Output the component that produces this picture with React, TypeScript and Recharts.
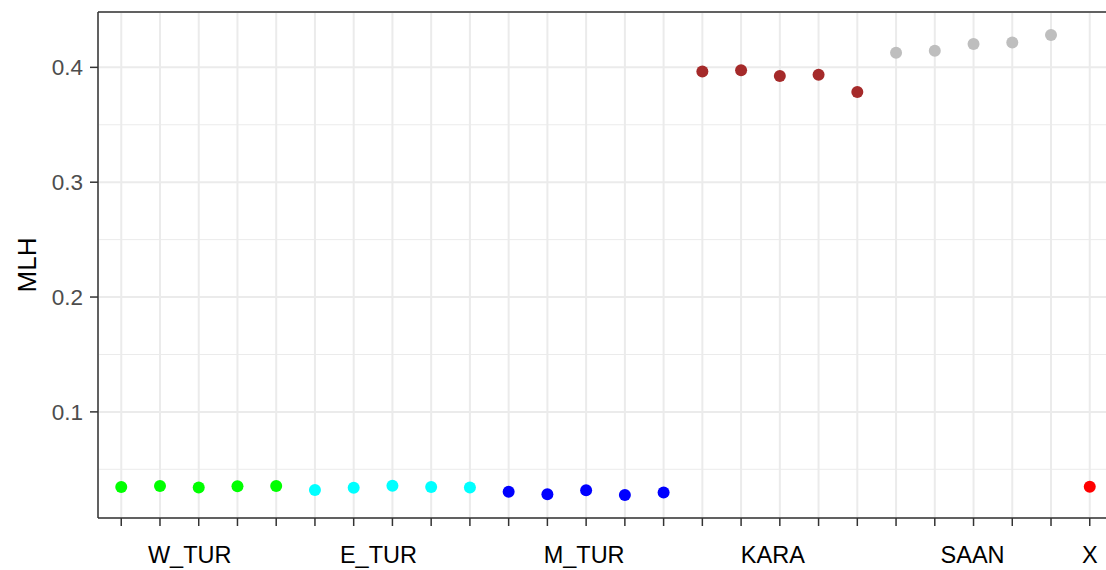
import {
  CartesianGrid,
  Label,
  ReferenceLine,
  Scatter,
  ScatterChart,
  XAxis,
  YAxis,
} from "recharts";

const groups = ["W_TUR", "E_TUR", "M_TUR", "KARA", "SAAN", "X"];
const groupColors = ["#00FF00", "#00FFFF", "#0000FF", "#A52A2A", "#BEBEBE", "#FF0000"];

const mlhWTur = [0.0345, 0.0354, 0.0341, 0.0352, 0.0354];
const mlhETur = [0.0319, 0.0339, 0.0357, 0.0345, 0.0342];
const mlhMTur = [0.0304, 0.0282, 0.0317, 0.0276, 0.0299];
const mlhKara = [0.3963, 0.3974, 0.3925, 0.3936, 0.3786];
const mlhSaan = [0.4128, 0.4145, 0.4203, 0.4217, 0.4282];
const mlhX = [0.0348];

const groupValues = [mlhWTur, mlhETur, mlhMTur, mlhKara, mlhSaan, mlhX];

const yTicks = [0.1, 0.2, 0.3, 0.4];
const yMinor = [0.05, 0.15, 0.25, 0.35];

// nudge of each group label (ggplot put them slightly left of the centre)
const labelShift: Record<string, number> = {
  W_TUR: -9,
  E_TUR: -14,
  M_TUR: -2,
  KARA: -7,
  SAAN: -1,
  X: 0,
};

// one row per sample, numbered along the x axis
let pos = 0;
const seriesData = groupValues.map((vals) =>
  vals.map((v) => {
    pos += 1;
    return { pos, mlh: v };
  })
);
const positions = Array.from({ length: pos }, (_, i) => i + 1);

// group label sits under the middle sample of its group
const tickLabels: string[] = positions.map(() => "");
seriesData.forEach((rows, i) => {
  const mid = rows[Math.floor((rows.length - 1) / 2)];
  tickLabels[mid.pos - 1] = groups[i];
});

const yMin = 0.0076;
const yMax = 0.4482;
const font = "'Liberation Sans', Arial, sans-serif";

const Dot = (props: any) => (
  <circle cx={props.cx} cy={props.cy} r={6} fill={props.fill} />
);

const XTick = (props: any) => {
  const label = tickLabels[props.payload.value - 1];
  if (!label) return <g />;
  return (
    <text
      x={props.x + labelShift[label]}
      y={props.y}
      dy="0.71em"
      textAnchor="middle"
      fontSize={23.5}
      fontFamily={font}
      fill="#000000"
    >
      {label}
    </text>
  );
};

export default function App() {
  return (
    <div
      style={{
        position: "absolute",
        left: 0,
        top: 0,
        width: 1106,
        height: 570,
        overflow: "hidden",
        background: "#fff",
      }}
    >
      <ScatterChart
        width={1120}
        height={570}
        margin={{ top: 12, right: 7, left: 0, bottom: 0 }}
      >
        <CartesianGrid stroke="#EBEBEB" strokeWidth={2} fill="#FFFFFF" />
        {yMinor.map((v) => (
          <ReferenceLine key={v} y={v} stroke="#EBEBEB" strokeWidth={1} />
        ))}
        <ReferenceLine y={yMax} stroke="#333333" strokeWidth={1.5} />
        <XAxis
          type="number"
          dataKey="pos"
          domain={[0.4, pos + 0.6]}
          allowDataOverflow={true}
          ticks={positions}
          interval={0}
          height={52}
          tickSize={8}
          tickMargin={20}
          tick={<XTick />}
          axisLine={{ stroke: "#333333", strokeWidth: 1.5 }}
          tickLine={{ stroke: "#333333", strokeWidth: 1.5 }}
        />
        <YAxis
          type="number"
          dataKey="mlh"
          domain={[yMin, yMax]}
          allowDataOverflow={true}
          ticks={yTicks}
          width={98}
          tickSize={8}
          tickMargin={7}
          tick={{ fill: "#4D4D4D", fontSize: 22.5, fontFamily: font }}
          axisLine={{ stroke: "#333333", strokeWidth: 1.5 }}
          tickLine={{ stroke: "#333333", strokeWidth: 1.5 }}
        >
          <Label
            content={(p: any) => {
              const vb = p.viewBox;
              const x = vb.x + 36;
              const y = 265;
              return (
                <text
                  x={x}
                  y={y}
                  transform={`rotate(-90, ${x}, ${y})`}
                  textAnchor="middle"
                  fontSize={26}
                  fontFamily={font}
                  fill="#000000"
                >
                  MLH
                </text>
              );
            }}
          />
        </YAxis>
        {seriesData.map((rows, i) => (
          <Scatter
            key={groups[i]}
            name={groups[i]}
            data={rows}
            fill={groupColors[i]}
            shape={<Dot />}
            isAnimationActive={false}
          />
        ))}
      </ScatterChart>
    </div>
  );
}
